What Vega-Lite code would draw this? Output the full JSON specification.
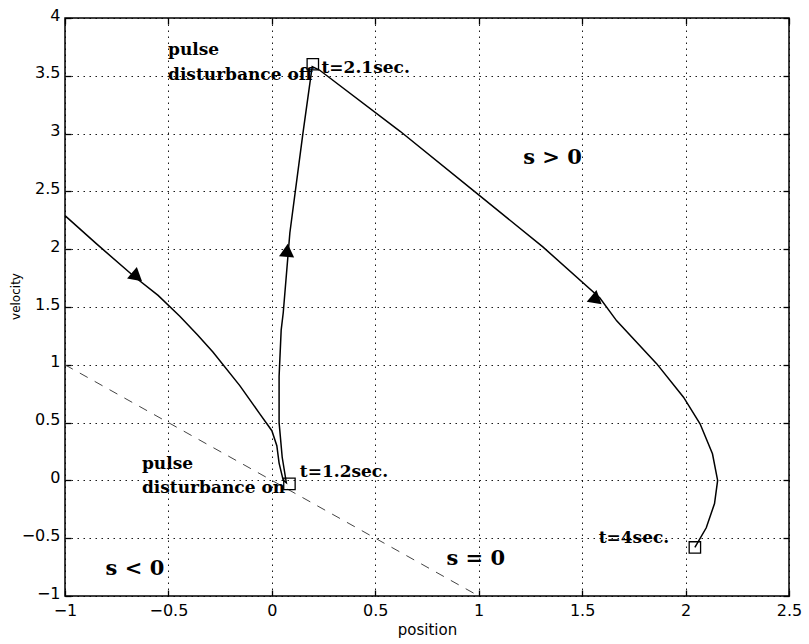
{
  "$schema": "https://vega.github.io/schema/vega-lite/v6.json",
  "width": 724,
  "height": 578,
  "autosize": "none",
  "padding": {"left": 65, "top": 18, "right": 20, "bottom": 48},
  "background": "white",
  "config": {
    "view": {"stroke": "black", "strokeWidth": 1.5},
    "axis": {
      "domain": false,
      "grid": true,
      "gridColor": "black",
      "gridOpacity": 0.9,
      "gridDash": [1.5, 4.5],
      "gridWidth": 1,
      "ticks": true,
      "tickColor": "black",
      "tickSize": -6,
      "tickWidth": 1.3,
      "labelFont": "DejaVu Sans",
      "labelFontSize": 16,
      "labelColor": "black",
      "labelFlush": false,
      "labelOverlap": false,
      "format": "~g",
      "titleFont": "DejaVu Sans",
      "titleFontWeight": "normal",
      "titleColor": "black"
    },
    "scale": {"zero": false}
  },
  "datasets": {
    "trajectory": [
      {"i": 1, "x": -1.0, "y": 2.29},
      {"i": 2, "x": -0.85, "y": 2.05},
      {"i": 3, "x": -0.67, "y": 1.77},
      {"i": 4, "x": -0.55, "y": 1.6},
      {"i": 5, "x": -0.445, "y": 1.42},
      {"i": 6, "x": -0.36, "y": 1.26},
      {"i": 7, "x": -0.285, "y": 1.11},
      {"i": 8, "x": -0.155, "y": 0.82},
      {"i": 9, "x": -0.06, "y": 0.58},
      {"i": 10, "x": 0.0, "y": 0.43},
      {"i": 11, "x": 0.024, "y": 0.3},
      {"i": 12, "x": 0.035, "y": 0.15},
      {"i": 13, "x": 0.055, "y": 0.0},
      {"i": 14, "x": 0.07, "y": -0.02},
      {"i": 15, "x": 0.05, "y": 0.2},
      {"i": 16, "x": 0.035, "y": 0.5},
      {"i": 17, "x": 0.035, "y": 0.9},
      {"i": 18, "x": 0.045, "y": 1.3},
      {"i": 19, "x": 0.055, "y": 1.45},
      {"i": 20, "x": 0.087, "y": 2.14},
      {"i": 21, "x": 0.15, "y": 3.0},
      {"i": 22, "x": 0.195, "y": 3.58},
      {"i": 23, "x": 0.23, "y": 3.55},
      {"i": 24, "x": 0.62, "y": 3.02},
      {"i": 25, "x": 1.0, "y": 2.47},
      {"i": 26, "x": 1.31, "y": 2.02},
      {"i": 27, "x": 1.585, "y": 1.58},
      {"i": 28, "x": 1.667, "y": 1.38},
      {"i": 29, "x": 1.86, "y": 1.01},
      {"i": 30, "x": 1.99, "y": 0.72},
      {"i": 31, "x": 2.07, "y": 0.49},
      {"i": 32, "x": 2.13, "y": 0.23},
      {"i": 33, "x": 2.155, "y": 0.0},
      {"i": 34, "x": 2.14, "y": -0.2},
      {"i": 35, "x": 2.1, "y": -0.41},
      {"i": 36, "x": 2.045, "y": -0.58}
    ],
    "sline": [
      {"x": -1.0, "y": 1.0},
      {"x": 1.0, "y": -1.0}
    ],
    "arrows": [
      {"x": -0.652, "y": 1.76, "dir": "down"},
      {"x": 0.074, "y": 1.99, "dir": "up"},
      {"x": 1.57, "y": 1.56, "dir": "down"}
    ],
    "markers": [
      {"x": 0.085, "y": -0.03, "t": "1.2"},
      {"x": 0.198, "y": 3.6, "t": "2.1"},
      {"x": 2.045, "y": -0.58, "t": "4"}
    ],
    "notes": [
      {"x": -0.502, "y": 3.68, "text": "pulse"},
      {"x": -0.502, "y": 3.46, "text": "disturbance off"},
      {"x": 0.24, "y": 3.52, "text": "t=2.1sec."},
      {"x": -0.628, "y": 0.1, "text": "pulse"},
      {"x": -0.628, "y": -0.11, "text": "disturbance on"},
      {"x": 0.135, "y": 0.03, "text": "t=1.2sec."},
      {"x": 1.58, "y": -0.545, "text": "t=4sec."}
    ],
    "regions": [
      {"x": 1.357, "y": 2.74, "text": "s > 0"},
      {"x": -0.662, "y": -0.82, "text": "s < 0"},
      {"x": 0.986, "y": -0.735, "text": "s = 0"}
    ]
  },
  "resolve": {"axis": {"x": "independent", "y": "independent"}},
  "layer": [
    {
      "data": {"name": "sline"},
      "mark": {"type": "line", "color": "#444444", "strokeWidth": 1, "strokeDash": [9, 8]},
      "encoding": {
        "x": {"field": "x", "type": "quantitative", "scale": {"domain": [-1, 2.5], "nice": false, "zero": false},
              "axis": {"orient": "bottom", "values": [-1, -0.5, 0, 0.5, 1, 1.5, 2, 2.5], "labelPadding": 12, "title": "position", "titleFontSize": 15, "titleBaseline": "alphabetic", "titleY": 38, "titlePadding": 0}},
        "y": {"field": "y", "type": "quantitative", "scale": {"domain": [-1, 4], "nice": false, "zero": false},
              "axis": {"orient": "left", "values": [-1, -0.5, 0, 0.5, 1, 1.5, 2, 2.5, 3, 3.5, 4], "labelPadding": 11, "labelOffset": -3, "title": "velocity", "titleFontSize": 12, "titleAngle": -90, "titleBaseline": "alphabetic", "titleAlign": "center", "titleX": -46, "titleY": 278}}
      }
    },
    {
      "data": {"name": "trajectory"},
      "mark": {"type": "line", "color": "black", "strokeWidth": 1.5},
      "encoding": {
        "x": {"field": "x", "type": "quantitative", "scale": {"domain": [-1, 2.5], "nice": false, "zero": false}, "axis": {"orient": "top", "labels": false, "grid": false, "title": null, "values": [-1, -0.5, 0, 0.5, 1, 1.5, 2, 2.5]}},
        "y": {"field": "y", "type": "quantitative", "scale": {"domain": [-1, 4], "nice": false, "zero": false}, "axis": {"orient": "right", "labels": false, "grid": false, "title": null, "values": [-1, -0.5, 0, 0.5, 1, 1.5, 2, 2.5, 3, 3.5, 4]}},
        "order": {"field": "i", "type": "quantitative"}
      }
    },
    {
      "data": {"name": "arrows"},
      "transform": [{"filter": "datum.dir === 'down'"}],
      "mark": {"type": "point", "shape": "triangle-up", "filled": true, "color": "black", "opacity": 1, "size": 230, "angle": 130},
      "encoding": {
        "x": {"field": "x", "type": "quantitative", "axis": null},
        "y": {"field": "y", "type": "quantitative", "axis": null}
      }
    },
    {
      "data": {"name": "arrows"},
      "transform": [{"filter": "datum.dir === 'up'"}],
      "mark": {"type": "point", "shape": "triangle-up", "filled": true, "color": "black", "opacity": 1, "size": 230, "angle": 5},
      "encoding": {
        "x": {"field": "x", "type": "quantitative", "axis": null},
        "y": {"field": "y", "type": "quantitative", "axis": null}
      }
    },
    {
      "data": {"name": "markers"},
      "mark": {"type": "point", "shape": "square", "filled": false, "color": "black", "opacity": 1, "size": 130, "strokeWidth": 1.3},
      "encoding": {
        "x": {"field": "x", "type": "quantitative", "axis": null},
        "y": {"field": "y", "type": "quantitative", "axis": null}
      }
    },
    {
      "data": {"name": "notes"},
      "mark": {"type": "text", "align": "left", "baseline": "alphabetic", "font": "DejaVu Serif", "fontWeight": "bold", "fontSize": 17, "color": "black"},
      "encoding": {
        "x": {"field": "x", "type": "quantitative", "axis": null},
        "y": {"field": "y", "type": "quantitative", "axis": null},
        "text": {"field": "text"}
      }
    },
    {
      "data": {"name": "regions"},
      "mark": {"type": "text", "align": "center", "baseline": "alphabetic", "font": "DejaVu Serif", "fontWeight": "bold", "fontSize": 21, "color": "black"},
      "encoding": {
        "x": {"field": "x", "type": "quantitative", "axis": null},
        "y": {"field": "y", "type": "quantitative", "axis": null},
        "text": {"field": "text"}
      }
    }
  ]
}
